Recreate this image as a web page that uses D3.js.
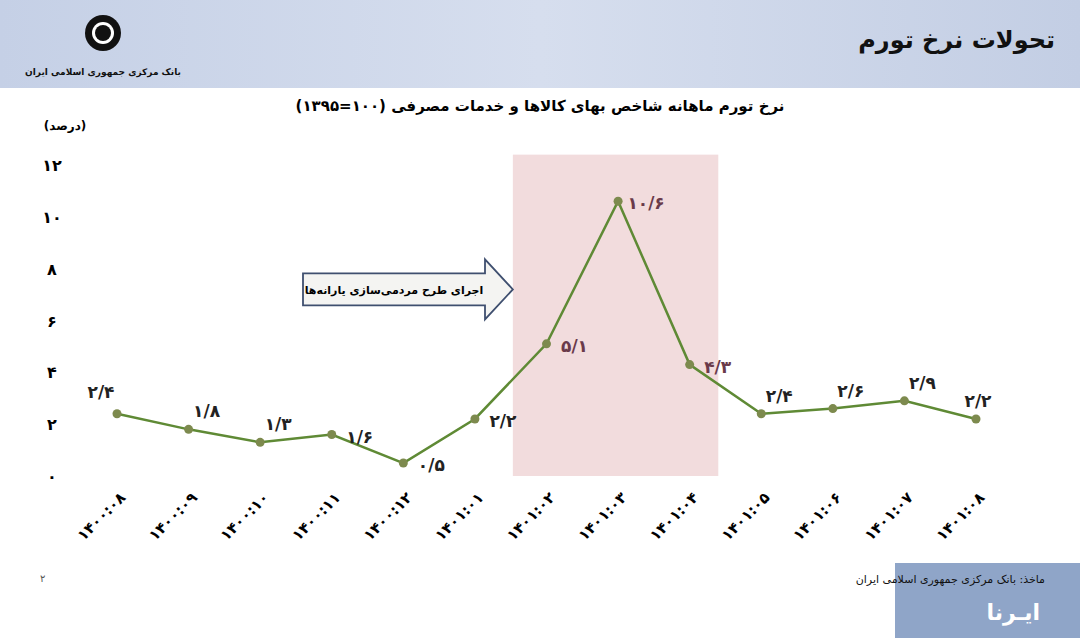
<!DOCTYPE html>
<html><head><meta charset="utf-8">
<script src="https://cdn.jsdelivr.net/npm/d3@7"></script>
<style>body{margin:0;background:#fff;font-family:"DejaVu Sans",sans-serif;}</style>
</head><body><div id="viz"></div>
<script>
const months = ["۱۴۰۰:۰۸","۱۴۰۰:۰۹","۱۴۰۰:۱۰","۱۴۰۰:۱۱","۱۴۰۰:۱۲","۱۴۰۱:۰۱","۱۴۰۱:۰۲","۱۴۰۱:۰۳","۱۴۰۱:۰۴","۱۴۰۱:۰۵","۱۴۰۱:۰۶","۱۴۰۱:۰۷","۱۴۰۱:۰۸"];
const inflation = [2.4, 1.8, 1.3, 1.6, 0.5, 2.2, 5.1, 10.6, 4.3, 2.4, 2.6, 2.9, 2.2];
const yTicks = [0, 2, 4, 6, 8, 10, 12];
const yTickLabels = ["۰","۲","۴","۶","۸","۱۰","۱۲"];
const labelSide = ["aboveLeft","aboveRight","aboveRight","right","right","right","right","right","right","aboveRight","aboveRight","aboveRight","above"];
const highlight = ["۱۴۰۱:۰۲","۱۴۰۱:۰۴"];

const fa = s => String(s).replace(/\d/g, d => "۰۱۲۳۴۵۶۷۸۹"[d]).replace(".", "/");

const W = 1080, H = 638;
const svg = d3.select("#viz").append("svg").attr("width", W).attr("height", H);

// header band
const hdr = svg.append("g");
const grad = svg.append("defs").append("linearGradient").attr("id","hg");
grad.append("stop").attr("offset","0").attr("stop-color","#c5d0e6");
grad.append("stop").attr("offset","0.5").attr("stop-color","#d6deee");
grad.append("stop").attr("offset","1").attr("stop-color","#c3cee4");
hdr.append("rect").attr("width", W).attr("height", 88).attr("fill", "url(#hg)");
hdr.append("text").attr("x", 1055).attr("y", 48).attr("text-anchor","end")
  .attr("font-size", 24).attr("font-weight","bold").attr("fill","#111").text("تحولات نرخ تورم");
hdr.append("circle").attr("cx",103).attr("cy",33).attr("r",18).attr("fill","#111");
hdr.append("circle").attr("cx",103).attr("cy",33).attr("r",11).attr("fill","#fff");
hdr.append("circle").attr("cx",103).attr("cy",33).attr("r",8).attr("fill","#111");
hdr.append("text").attr("x", 103).attr("y", 75).attr("text-anchor","middle")
  .attr("font-size", 9).attr("font-weight","bold").attr("fill","#111").text("بانک مرکزی جمهوری اسلامی ایران");

svg.append("text").attr("x", 540).attr("y", 111).attr("text-anchor","middle")
  .attr("font-size", 15).attr("font-weight","bold").text("نرخ تورم ماهانه شاخص بهای کالاها و خدمات مصرفی (۱۰۰=۱۳۹۵)");
svg.append("text").attr("x", 65).attr("y", 130).attr("text-anchor","middle")
  .attr("font-size", 12).attr("font-weight","bold").text("(درصد)");

const x = d3.scalePoint().domain(months).range([117, 976]);
const y = d3.scaleLinear().domain([0, 12]).range([476, 165]);

// highlight band
const step = x.step();
const bx0 = x(highlight[0]) - step * 0.47, bx1 = x(highlight[1]) + step * 0.4;
svg.append("rect")
  .attr("x", bx0).attr("width", bx1 - bx0)
  .attr("y", y(12.4)).attr("height", y(0) - y(12.4)).attr("fill", "#f2dcdd");

// y axis labels
svg.append("g").selectAll("text").data(yTicks).join("text")
  .attr("x", 52).attr("y", d => y(d) + 6).attr("text-anchor","middle")
  .attr("font-size", 16).attr("font-weight","bold").text((d, i) => yTickLabels[i]);

// x axis labels
svg.append("g").selectAll("text").data(months).join("text")
  .attr("transform", d => `translate(${x(d) - 12},${520}) rotate(-45)`)
  .attr("text-anchor","middle").attr("font-size", 15).attr("font-weight","bold").text(d => d);

// callout arrow
const ax0 = 303, ax1 = 485, tip = bx0, ay = y(7.2);
svg.append("path")
  .attr("d", `M${ax0},${ay-16}L${ax1},${ay-16}L${ax1},${ay-30}L${tip},${ay}L${ax1},${ay+30}L${ax1},${ay+16}L${ax0},${ay+16}Z`)
  .attr("fill","#f4f4f2").attr("stroke","#3f4f6f").attr("stroke-width",1.8);
svg.append("text").attr("x", 394).attr("y", ay + 5).attr("text-anchor","middle")
  .attr("font-size", 11).attr("font-weight","bold").text("اجرای طرح مردمی‌سازی یارانه‌ها");

// line
svg.append("path").datum(inflation)
  .attr("fill","none").attr("stroke","#5f8a35").attr("stroke-width",2.5)
  .attr("d", d3.line().x((d, i) => x(months[i])).y(d => y(d)));
svg.append("g").selectAll("circle").data(inflation).join("circle")
  .attr("cx", (d, i) => x(months[i])).attr("cy", d => y(d)).attr("r", 4.5).attr("fill","#7d8a4e");

const off = {aboveLeft: [-16, -16], aboveRight: [18, -12], right: [28, 8], above: [2, -12]};
svg.append("g").selectAll("text").data(inflation).join("text")
  .attr("x", (d, i) => x(months[i]) + off[labelSide[i]][0])
  .attr("y", (d, i) => y(d) + off[labelSide[i]][1])
  .attr("text-anchor","middle").attr("font-size", 17).attr("font-weight","bold")
  .attr("fill", (d, i) => i >= 6 && i <= 8 ? "#6a3a4a" : "#222").text(d => fa(d));

// footer
svg.append("text").attr("x", 40).attr("y", 582).attr("font-size", 10).attr("fill","#555").text("۲");
svg.append("rect").attr("x", 895).attr("y", 563).attr("width", 185).attr("height", 75).attr("fill","#8fa5c8");
svg.append("text").attr("x", 1040).attr("y", 620).attr("text-anchor","end")
  .attr("font-size", 22).attr("font-weight","bold").attr("fill","#fff").text("ایـرنا");
svg.append("text").attr("x", 1045).attr("y", 583).attr("text-anchor","end")
  .attr("font-size", 11).attr("fill","#111").text("ماخذ: بانک مرکزی جمهوری اسلامی ایران");
</script></body></html>
